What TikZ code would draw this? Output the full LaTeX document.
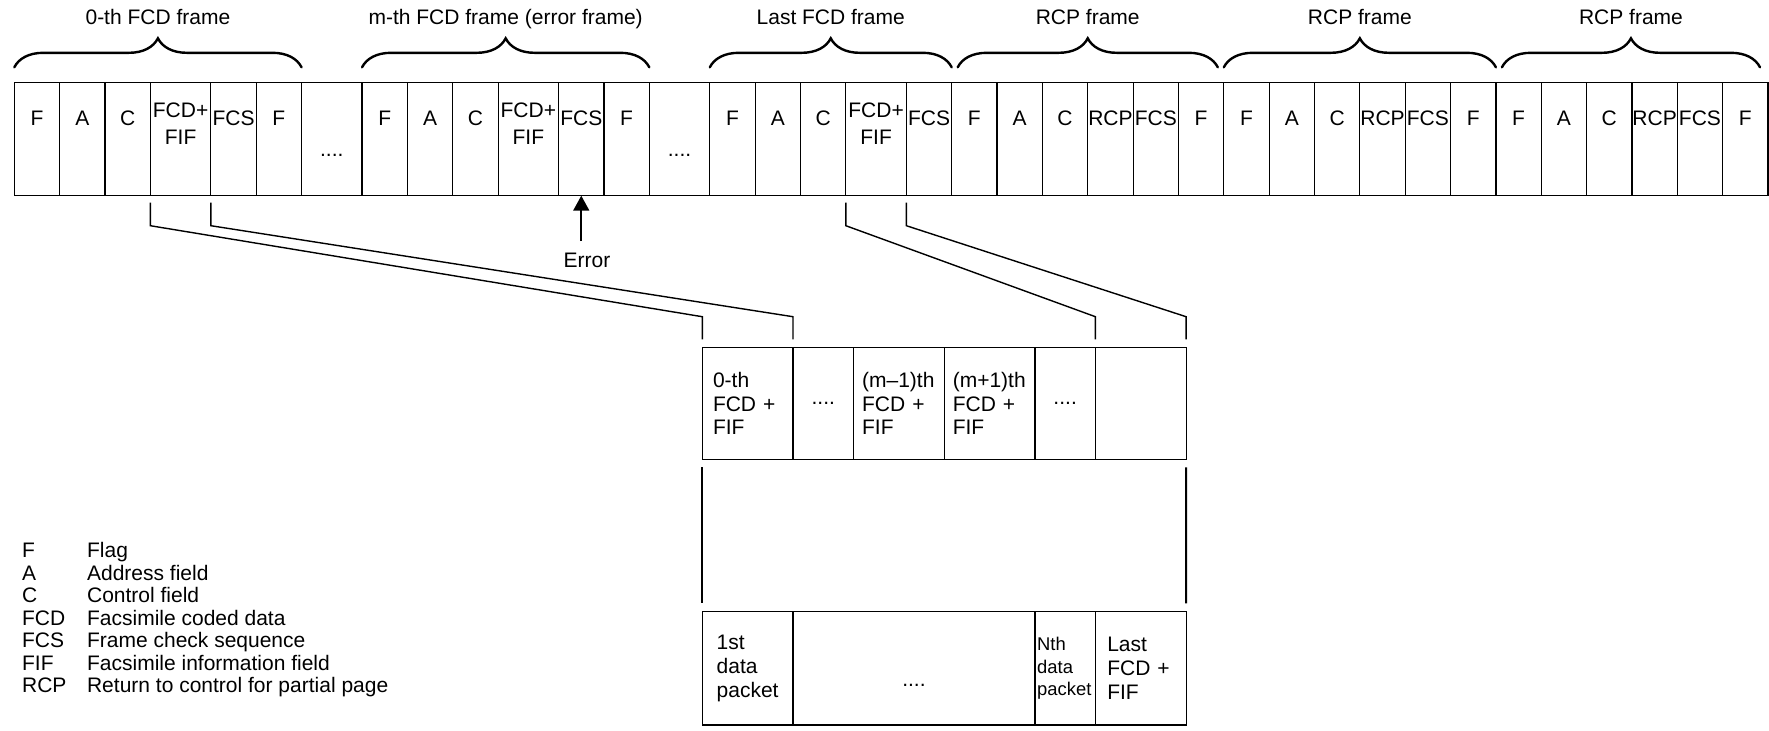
\documentclass[tikz,border=0pt]{standalone}
\usepackage{fontspec}
\setmainfont{Liberation Sans}
\usetikzlibrary{positioning,decorations.pathreplacing,arrows.meta}

\newcommand{\fcdfif}{\begin{tabular}[t]{@{}c@{}}FCD+\\FIF\end{tabular}}

\tikzset{
  txt/.style={font=\fontsize{10.5}{12}\selectfont},
  cell/.style={txt, draw, line width=0.6pt, inner sep=0pt, outer sep=0pt,
    minimum width=22.675pt, minimum height=56.7pt, text height=8pt, text depth=21.5pt},
  wcell/.style={cell, minimum width=30.25pt},
  dcell/.style={wcell, font=\fontsize{10.5}{13.35}\selectfont, text depth=29.5pt},
  gapcell/.style={wcell, text height=18.5pt, text depth=1pt},
  framebrace/.style={decorate, decoration={brace, amplitude=14.5pt}, line width=1.2pt, line cap=round},
  framelbl/.style={txt, midway, anchor=base, yshift=21.4pt, inner sep=0pt},
  link/.style={line width=0.7pt},
  errarrow/.style={line width=0.8pt, -{Triangle[width=8pt,length=7.5pt]}, shorten <=5.75pt},
  pcell/.style={draw, line width=0.6pt, outer sep=0pt, minimum height=56.25pt, align=left,
    font=\fontsize{10.5}{11.65}\selectfont},
  qcell/.style={pcell, minimum height=56.65pt, font=\fontsize{10.5}{12}\selectfont},
}

\begin{document}
\begin{tikzpicture}[x=0.5pt,y=-0.5pt]
\useasboundingbox (0,0) rectangle (1769,730);

% frame strip
\node[cell, anchor=north west] (a1) at (14.3,82.3) {F};
\node[cell, right=0pt of a1] (a2) {A};
\node[cell, right=0pt of a2] (a3) {C};
\node[dcell, right=0pt of a3] (a4) {\fcdfif};
\node[cell, right=0pt of a4] (a5) {FCS};
\node[cell, right=0pt of a5] (a6) {F};
\node[gapcell, right=0pt of a6] (d1) {....};
\node[cell, right=0pt of d1] (m1) {F};
\node[cell, right=0pt of m1] (m2) {A};
\node[cell, right=0pt of m2] (m3) {C};
\node[dcell, right=0pt of m3] (m4) {\fcdfif};
\node[cell, right=0pt of m4] (m5) {FCS};
\node[cell, right=0pt of m5] (m6) {F};
\node[gapcell, right=0pt of m6] (d2) {....};
\node[cell, right=0pt of d2] (l1) {F};
\node[cell, right=0pt of l1] (l2) {A};
\node[cell, right=0pt of l2] (l3) {C};
\node[dcell, right=0pt of l3] (l4) {\fcdfif};
\node[cell, right=0pt of l4] (l5) {FCS};
\node[cell, right=0pt of l5] (r1) {F};
\node[cell, right=0pt of r1] (r2) {A};
\node[cell, right=0pt of r2] (r3) {C};
\node[cell, right=0pt of r3] (r4) {RCP};
\node[cell, right=0pt of r4] (r5) {FCS};
\node[cell, right=0pt of r5] (r6) {F};
\node[cell, right=0pt of r6] (s1) {F};
\node[cell, right=0pt of s1] (s2) {A};
\node[cell, right=0pt of s2] (s3) {C};
\node[cell, right=0pt of s3] (s4) {RCP};
\node[cell, right=0pt of s4] (s5) {FCS};
\node[cell, right=0pt of s5] (s6) {F};
\node[cell, right=0pt of s6] (t1) {F};
\node[cell, right=0pt of t1] (t2) {A};
\node[cell, right=0pt of t2] (t3) {C};
\node[cell, right=0pt of t3] (t4) {RCP};
\node[cell, right=0pt of t4] (t5) {FCS};
\node[cell, right=0pt of t5] (t6) {F};

% braces over the frames
\draw[framebrace] ([yshift=7.5pt]a1.north west) -- ([yshift=7.5pt]a6.north east) node[framelbl] (b1) {0-th FCD frame};
\draw[framebrace] ([yshift=7.5pt]m1.north west) -- ([yshift=7.5pt]m6.north east) node[framelbl] (b2) {m-th FCD frame (error frame)};
\draw[framebrace] ([yshift=7.5pt]l1.north west) -- ([yshift=7.5pt]l5.north east) node[framelbl] (b3) {Last FCD frame};
\draw[framebrace] ([xshift=3pt,yshift=7.5pt]r1.north west) -- ([xshift=-3pt,yshift=7.5pt]r6.north east) node[framelbl] (b4) {RCP frame};
\draw[framebrace] ([yshift=7.5pt]s1.north west) -- ([yshift=7.5pt]s6.north east) node[framelbl] (b5) {RCP frame};
\draw[framebrace] ([xshift=3pt,yshift=7.5pt]t1.north west) -- ([xshift=-4pt,yshift=7.5pt]t6.north east) node[framelbl] (b6) {RCP frame};

% error mark
\node[txt, anchor=north, inner sep=0pt] (err) at ([xshift=2.85pt,yshift=-28.4pt]m5.south) {Error};
\draw[errarrow] (err.north -| m5.south) -- (m5.south);

% FCD + FIF store
\node[pcell, anchor=north west, text width=34.65pt, inner xsep=5.35pt] (p1) at (702.3,347.3) {0-th\\FCD +\\FIF};
\node[pcell, right=0pt of p1, minimum width=30.25pt] (p2) {....};
\node[pcell, right=0pt of p2, text width=36.75pt, inner xsep=4.3pt] (p3) {(m--1)th\\FCD +\\FIF};
\node[pcell, right=0pt of p3, text width=36.75pt, inner xsep=4.3pt] (p4) {(m+1)th\\FCD +\\FIF};
\node[pcell, right=0pt of p4, minimum width=30.25pt] (p5) {....};
\node[pcell, right=0pt of p5, minimum width=45.35pt] (p6) {};

% data packets
\node[qcell, anchor=north west, text width=30.95pt, inner xsep=7.2pt] (q1) at (702.3,611.7) {1st\\data\\packet};
\node[qcell, right=0pt of q1, minimum width=120.95pt, text height=18.4pt, text depth=0pt] (q2) {....};
\node[qcell, right=0pt of q2, text width=27.95pt, inner xsep=1.15pt, font=\fontsize{9.2}{11.25}\selectfont] (q3) {Nth\\data\\packet};
\node[qcell, right=0pt of q3, text width=33.45pt, inner xsep=5.95pt] (q4) {Last\\FCD +\\FIF};

% links
\draw[link] ([yshift=-3.5pt]a4.south west) -- ++(0,23) -- ([yshift=15.3pt]p1.north west) -- ([yshift=4pt]p1.north west);
\draw[link] ([yshift=-3.5pt]a4.south east) -- ++(0,23) -- ([yshift=15.3pt]p1.north east) -- ([yshift=4pt]p1.north east);
\draw[link] ([yshift=-3.5pt]l4.south west) -- ++(0,23) -- ([yshift=15.3pt]p6.north west) -- ([yshift=4pt]p6.north west);
\draw[link] ([yshift=-3.5pt]l4.south east) -- ++(0,23) -- ([yshift=15.3pt]p6.north east) -- ([yshift=4pt]p6.north east);
\draw[link, line width=1pt] ([yshift=-3.75pt]p1.south west) -- ([yshift=4.2pt]q1.north west);
\draw[link, line width=1pt] ([yshift=-3.75pt]p6.south east) -- ([yshift=4.2pt]q4.north east);

% key
\node[anchor=base west, inner sep=0pt, font=\fontsize{10.5}{11.25}\selectfont] (key) at (21.7,557.5) {%
\begin{tabular}[t]{@{}p{32.5pt}@{}l@{}}
F & Flag\\
A & Address field\\
C & Control field\\
FCD & Facsimile coded data\\
FCS & Frame check sequence\\
FIF & Facsimile information field\\
RCP & Return to control for partial page
\end{tabular}};
\end{tikzpicture}
\end{document}
